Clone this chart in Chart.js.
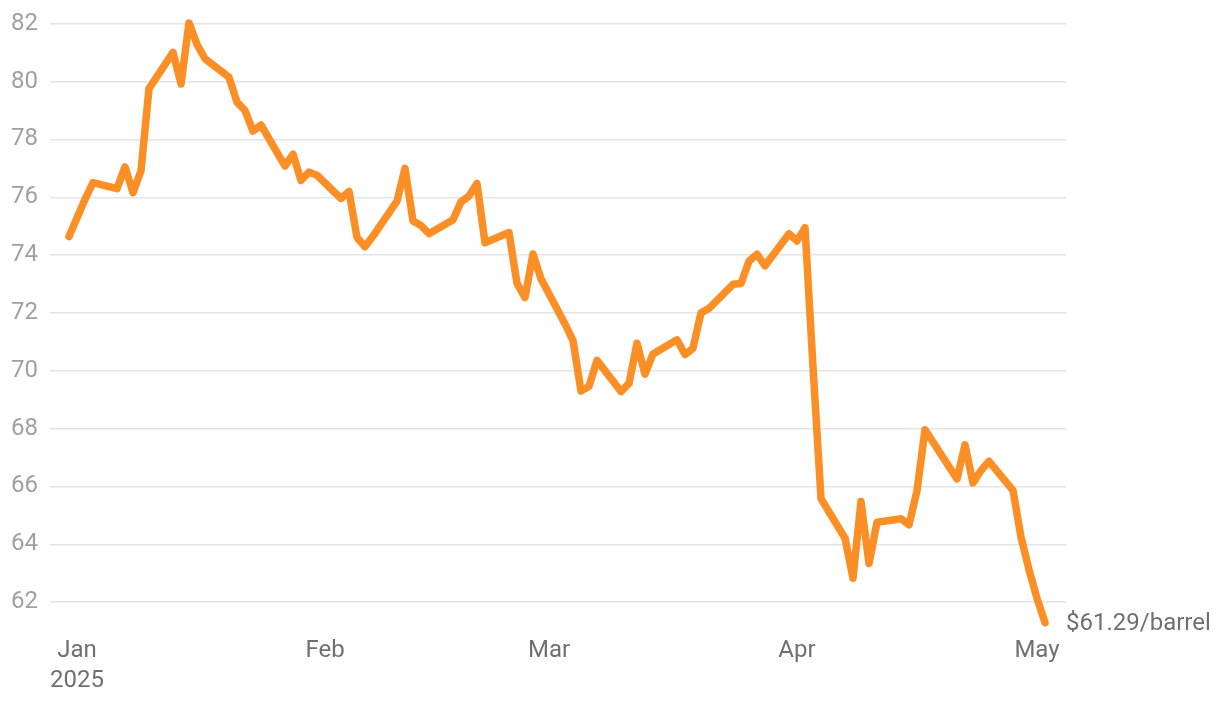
<!DOCTYPE html>
<html>
<head>
<meta charset="utf-8">
<script src="https://cdn.jsdelivr.net/npm/chart.js@4.4.1/dist/chart.umd.min.js"></script>
<style>
  html, body { margin: 0; padding: 0; background: #ffffff; }
  #wrap { width: 1220px; height: 704px; position: relative; }
</style>
</head>
<body>
<div id="wrap"><canvas id="c" width="1220" height="704"></canvas></div>
<script>
// Trading dates and Brent crude prices (USD/barrel)
const dates = [
  "2024-12-31","2025-01-02","2025-01-03","2025-01-06","2025-01-07","2025-01-08","2025-01-09","2025-01-10",
  "2025-01-13","2025-01-14","2025-01-15","2025-01-16","2025-01-17","2025-01-20","2025-01-21","2025-01-22",
  "2025-01-23","2025-01-24","2025-01-27","2025-01-28","2025-01-29","2025-01-30","2025-01-31",
  "2025-02-03","2025-02-04","2025-02-05","2025-02-06","2025-02-07","2025-02-10","2025-02-11","2025-02-12",
  "2025-02-13","2025-02-14","2025-02-17","2025-02-18","2025-02-19","2025-02-20","2025-02-21","2025-02-24",
  "2025-02-25","2025-02-26","2025-02-27","2025-02-28",
  "2025-03-03","2025-03-04","2025-03-05","2025-03-06","2025-03-07","2025-03-10","2025-03-11","2025-03-12",
  "2025-03-13","2025-03-14","2025-03-17","2025-03-18","2025-03-19","2025-03-20","2025-03-21","2025-03-24",
  "2025-03-25","2025-03-26","2025-03-27","2025-03-28","2025-03-31",
  "2025-04-01","2025-04-02","2025-04-03","2025-04-04","2025-04-07","2025-04-08","2025-04-09","2025-04-10",
  "2025-04-11","2025-04-14","2025-04-15","2025-04-16","2025-04-17","2025-04-21","2025-04-22","2025-04-23",
  "2025-04-24","2025-04-25","2025-04-28","2025-04-29","2025-04-30","2025-05-01","2025-05-02"
];
const prices = [
  74.64,75.93,76.51,76.30,77.05,76.16,76.92,79.76,
  81.01,79.92,82.03,81.29,80.79,80.15,79.29,79.00,
  78.29,78.50,77.08,77.49,76.58,76.87,76.76,
  75.96,76.20,74.61,74.29,74.66,75.87,77.00,75.18,
  75.02,74.74,75.22,75.84,76.04,76.48,74.43,74.78,
  73.02,72.53,74.04,73.18,
  71.62,71.04,69.30,69.46,70.36,69.28,69.56,70.95,
  69.88,70.58,71.07,70.56,70.78,72.00,72.16,72.99,
  73.02,73.79,74.03,73.63,74.74,
  74.49,74.95,70.14,65.58,64.21,62.82,65.48,63.33,
  64.76,64.88,64.67,65.85,67.96,66.26,67.44,66.12,
  66.55,66.87,65.86,64.25,63.12,62.13,61.29
];
const monthTickDates = ["2025-01-01","2025-02-01","2025-03-01","2025-04-01","2025-05-01"];
const monthTickLabels = [["Jan","2025"],["Feb"],["Mar"],["Apr"],["May"]];
const yTickValues = [62,64,66,68,70,72,74,76,78,80,82];
const endLabel = "$61.29/barrel";

const origin = Date.UTC(2025,0,1);
function dayNum(s){ const p = s.split("-").map(Number); return (Date.UTC(p[0],p[1]-1,p[2]) - origin)/86400000; }
const points = dates.map((d,i)=>({x: dayNum(d), y: prices[i]}));
const monthTicks = monthTickDates.map(dayNum);

const endLabelPlugin = {
  id: 'endLabel',
  afterDatasetsDraw(chart){
    const meta = chart.getDatasetMeta(0);
    const last = meta.data[meta.data.length-1];
    const ctx = chart.ctx;
    ctx.save();
    ctx.font = '24px Roboto';
    ctx.fillStyle = '#707070';
    ctx.textAlign = 'left';
    ctx.textBaseline = 'middle';
    ctx.fillText(endLabel, last.x + 21, last.y + 1);
    ctx.restore();
  }
};

new Chart(document.getElementById('c'), {
  type: 'line',
  data: { datasets: [{
    data: points,
    borderColor: '#fb8f26',
    borderWidth: 7.5,
    pointRadius: 0,
    tension: 0,
    borderJoinStyle: 'round',
    borderCapStyle: 'round',
    fill: false
  }]},
  options: {
    responsive: false,
    animation: false,
    devicePixelRatio: 1,
    layout: { padding: { left: 0, right: 154, top: 18, bottom: 0 } },
    plugins: { legend: { display: false }, tooltip: { enabled: false } },
    scales: {
      x: {
        type: 'linear',
        min: -3.375,
        max: 123.625,
        grid: { display: false, drawTicks: false },
        border: { display: false },
        afterBuildTicks(scale){ scale.ticks = monthTicks.map(v=>({value:v})); },
        ticks: {
          autoSkip: false,
          maxRotation: 0,
          padding: 5,
          color: '#707070',
          font: { family: 'Roboto', size: 24, lineHeight: 1.25 },
          callback(value){ const i = monthTicks.indexOf(value); return i >= 0 ? monthTickLabels[i] : ''; }
        },
        afterFit(scale){ scale.height = 73; scale.paddingLeft = 0; scale.paddingRight = 0; }
      },
      y: {
        min: 61.0,
        max: 82.2,
        grid: { color: '#e4e4e4', lineWidth: 1.5, drawTicks: false },
        border: { display: false },
        afterBuildTicks(scale){ scale.ticks = yTickValues.map(v=>({value:v})); },
        ticks: {
          padding: 12,
          color: '#a0a0a0',
          font: { family: 'Roboto', size: 24 }
        },
        afterFit(scale){ scale.width = 50; scale.paddingTop = 0; scale.paddingBottom = 0; }
      }
    }
  },
  plugins: [endLabelPlugin]
});
</script>
</body>
</html>
